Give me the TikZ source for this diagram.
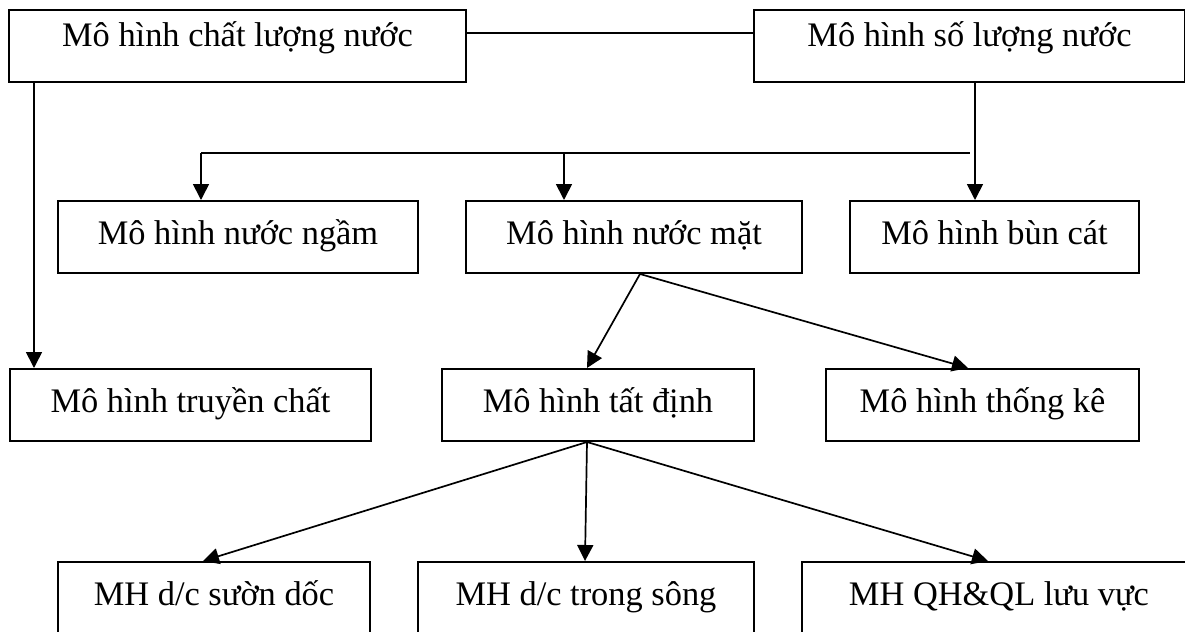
\documentclass[tikz,border=0pt]{standalone}
\usepackage{fontspec}
\setmainfont{Liberation Serif}
\usetikzlibrary{arrows.meta,positioning}
\tikzset{
  mhbox/.style={draw, line width=1pt, anchor=north west, inner xsep=0pt, inner ysep=0pt, font=\fontsize{17.2}{20}\selectfont, text height=21.5pt, text depth=14.5pt},
  topbox/.style={mhbox, text height=18pt, text depth=18pt},
  lowbox/.style={mhbox, text depth=18.5pt},
  plainline/.style={line width=0.85pt},
  headarrow/.style={-{Triangle[length=8pt,width=8pt]}, line width=0.85pt},
}

\begin{document}
\begin{tikzpicture}[x=0.5pt, y=-0.5pt]
  \useasboundingbox (0,0) rectangle (1185,632);
  \clip (0,0) rectangle (1185,632);

  % Top row
  \node[topbox, minimum width=228.5pt] (cl) at (8,9) {Mô hình chất lượng nước};
  \node[topbox, minimum width=215.5pt] (sl) at (753,9) {Mô hình số lượng nước};

  % Second row
  \node[mhbox, minimum width=180pt] (nn) at (57,200) {Mô hình nước ngầm};
  \node[mhbox, minimum width=168pt] (nm) at (465,200) {Mô hình nước mặt};
  \node[mhbox, minimum width=144.5pt] (bc) at (849,200) {Mô hình bùn cát};

  % Third row
  \node[mhbox, minimum width=180.5pt] (tc) at (9,368) {Mô hình truyền chất};
  \node[mhbox, minimum width=156pt] (td) at (441,368) {Mô hình tất định};
  \node[mhbox, minimum width=156.5pt] (tk) at (825,368) {Mô hình thống kê};

  % Bottom row
  \node[lowbox, minimum width=156pt] (sd) at (57,561) {MH d/c sườn dốc};
  \node[lowbox, minimum width=168pt] (ts) at (417,561) {MH d/c trong sông};
  \node[lowbox, minimum width=197pt] (ql) at (801,561) {MH QH\&QL lưu vực};

  % Bus line
  \coordinate (busL) at (201,153);
  \coordinate (busM) at (564,153);
  \coordinate (busR) at (970,153);
  \coordinate (split) at ([xshift=111pt]sl.south west);

  \draw[plainline] ([yshift=-12pt]cl.north east) -- ([yshift=-12pt]sl.north west);
  \draw[headarrow] ([xshift=13pt]cl.south west) -- ([xshift=12.5pt]tc.north west);
  \draw[headarrow] (split) -- (split |- bc.north);
  \draw[plainline] (busL) -- (busR);
  \draw[headarrow] (busL) -- (busL |- nn.north);
  \draw[headarrow] (busM) -- (busM |- nm.north);

  \draw[headarrow] ([xshift=87.5pt]nm.south west) -- ([xshift=73pt]td.north west);
  \draw[headarrow] ([xshift=87.5pt]nm.south west) -- ([xshift=71.5pt]tk.north west);

  \draw[headarrow] ([xshift=73pt]td.south west) -- ([xshift=73pt]sd.north west);
  \draw[headarrow] ([xshift=73pt]td.south west) -- ([xshift=84pt]ts.north west);
  \draw[headarrow] ([xshift=73pt]td.south west) -- ([xshift=93.5pt]ql.north west);
\end{tikzpicture}
\end{document}
